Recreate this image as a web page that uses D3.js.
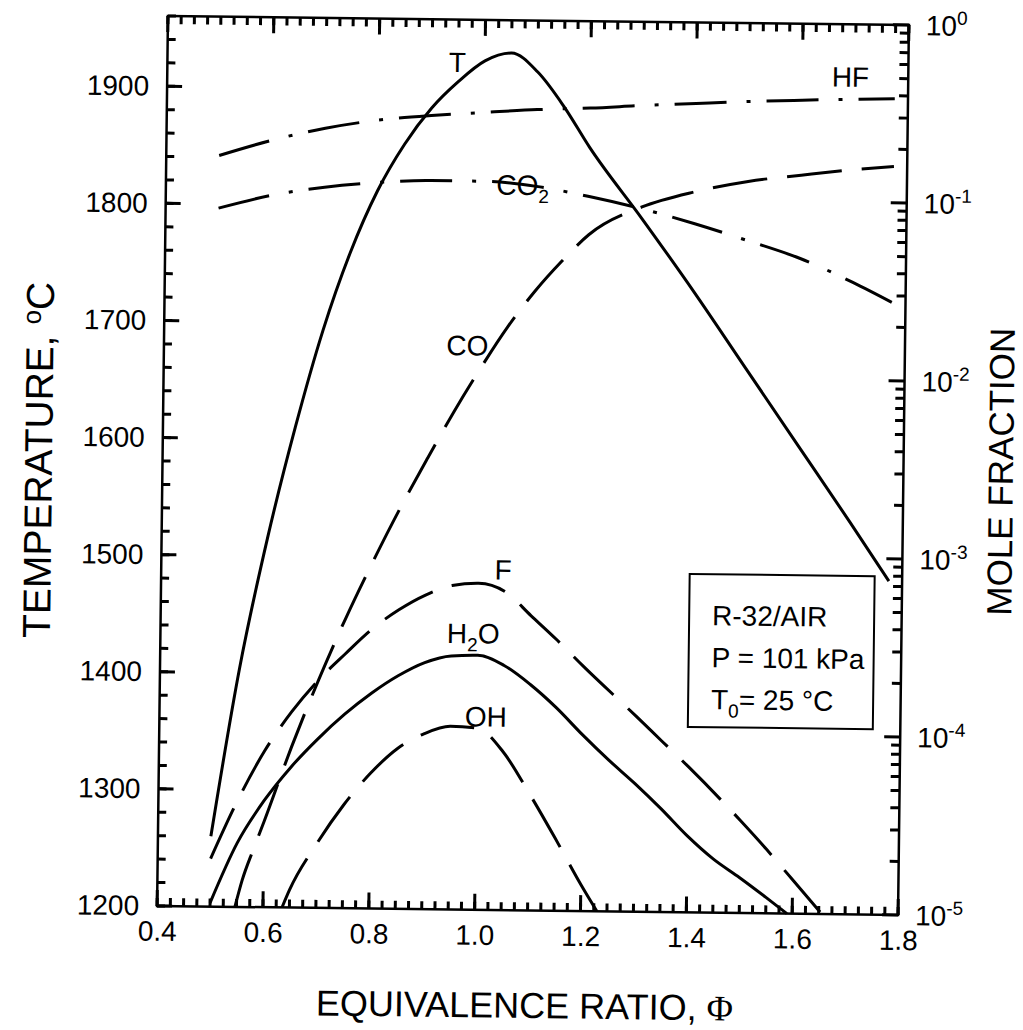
<!DOCTYPE html>
<html><head><meta charset="utf-8">
<script src="https://cdn.jsdelivr.net/npm/d3@7"></script>
<style>
body{margin:0;background:#fff}
svg{display:block}
text{font-family:"Liberation Sans",Arial,Helvetica,sans-serif;fill:#000}
</style>
</head><body>
<svg id="c" width="1023" height="1030"></svg>
<script>
// ---------- data ----------
const phiTemp = [0.5,0.55,0.6,0.65,0.7,0.75,0.8,0.85,0.9,0.95,1.0,1.05,1.1,1.15,1.2,1.3,1.4,1.5,1.6,1.7,1.775];
const temperature = [1260,1403,1515,1610,1693,1760,1813,1853,1884,1907,1925,1932,1916,1887,1852,1792,1730,1665,1600,1535,1485];

const phiHF = [0.5,0.6,0.7,0.8,0.9,1.0,1.1,1.2,1.3,1.4,1.5,1.6,1.7,1.775];
const moleHF = [0.166,0.204,0.240,0.269,0.288,0.302,0.316,0.325,0.339,0.351,0.363,0.372,0.380,0.385];

const phiCO2 = [0.5,0.6,0.7,0.8,0.9,1.0,1.1,1.2,1.3,1.4,1.5,1.6,1.7,1.775];
const moleCO2 = [0.084,0.100,0.112,0.120,0.124,0.124,0.117,0.1035,0.089,0.074,0.060,0.048,0.0355,0.0275];

const phiCO = [0.547,0.56,0.58,0.6,0.65,0.7,0.75,0.8,0.85,0.9,0.95,1.0,1.05,1.1,1.15,1.2,1.3,1.4,1.5,1.6,1.7,1.775];
const moleCO = [1.0e-5,1.41e-5,2.09e-5,3.02e-5,7.94e-5,1.91e-4,4.27e-4,8.91e-4,1.78e-3,3.39e-3,6.31e-3,1.12e-2,1.91e-2,3.02e-2,4.47e-2,6.31e-2,9.12e-2,0.112,0.129,0.141,0.153,0.160];

const phiF = [0.5,0.55,0.6,0.65,0.7,0.75,0.8,0.85,0.9,0.95,1.0,1.05,1.1,1.15,1.2,1.3,1.35,1.4,1.5,1.55,1.6,1.656];
const moleF = [1.86e-5,3.98e-5,7.59e-5,1.26e-4,1.91e-4,2.69e-4,3.72e-4,4.79e-4,5.82e-4,6.61e-4,6.84e-4,6.17e-4,4.52e-4,3.31e-4,2.37e-4,1.26e-4,9.12e-5,6.61e-5,3.31e-5,2.29e-5,1.55e-5,1.0e-5];

const phiH2O = [0.5,0.55,0.6,0.65,0.7,0.75,0.8,0.85,0.9,0.95,1.0,1.05,1.1,1.15,1.2,1.25,1.3,1.35,1.4,1.45,1.5,1.55,1.59];
const moleH2O = [1.05e-5,2.29e-5,3.98e-5,6.17e-5,8.91e-5,1.23e-4,1.62e-4,2.04e-4,2.43e-4,2.66e-4,2.69e-4,2.37e-4,1.86e-4,1.38e-4,9.77e-5,7.08e-5,5.25e-5,3.80e-5,2.69e-5,2.0e-5,1.58e-5,1.23e-5,1.0e-5];

const phiOH = [0.636,0.65,0.7,0.75,0.8,0.85,0.9,0.95,1.0,1.05,1.1,1.15,1.2,1.231];
const moleOH = [1.0e-5,1.26e-5,2.29e-5,3.80e-5,5.75e-5,7.94e-5,9.66e-5,1.07e-4,1.05e-4,7.76e-5,4.57e-5,2.57e-5,1.41e-5,1.0e-5];

const phiTickLabels = [0.4,0.6,0.8,1.0,1.2,1.4,1.6,1.8];
const tempTickLabels = [1200,1300,1400,1500,1600,1700,1800,1900];
const moleTickExponents = [0,-1,-2,-3,-4,-5];
const legendLines = ["R-32/AIR","P = 101 kPa","T0= 25 °C"];

// ---------- layout ----------
const W=1023,H=1030;
const M={left:162.5,right:903.5,top:20.5,bottom:910.5};
const x=d3.scaleLinear().domain([0.4,1.8]).range([M.left,M.right]);
const yT=d3.scaleLinear().domain([1200,1960]).range([M.bottom,M.top]);
const yL=d3.scaleLog().domain([1e-5,1]).range([M.bottom,M.top]);

const svg=d3.select("#c");
svg.append("rect").attr("width",W).attr("height",H).attr("fill","#fff");
const g=svg.append("g").attr("transform","rotate(0.7,533,465.5)");

// frame
g.append("rect").attr("x",M.left).attr("y",M.top).attr("width",M.right-M.left).attr("height",M.bottom-M.top)
 .attr("fill","none").attr("stroke","#000").attr("stroke-width",2.5);

const xMinor=d3.range(16,73).map(i=>i/40);
const tMinor=d3.range(1200,1961,20);
const logMinor=[];
for(let e=-5;e<0;e++) for(let m=2;m<10;m++) logMinor.push(m*Math.pow(10,e));
const logMajor=moleTickExponents.map(e=>Math.pow(10,e));

// tick marks as small filled rectangles placed by the scales (pointing into the plot)
const tw=3;
function vTicks(vals,y0,len,dir){
  g.append("g").selectAll("rect").data(vals).join("rect")
   .attr("x",d=>x(d)-tw/2).attr("y",dir>0?y0:y0-len).attr("width",tw).attr("height",len).attr("fill","#000");
}
function hTicks(vals,sc,x0,len,dir){
  g.append("g").selectAll("rect").data(vals).join("rect")
   .attr("x",dir>0?x0:x0-len).attr("y",d=>sc(d)-tw/2).attr("width",len).attr("height",tw).attr("fill","#000");
}
vTicks(xMinor,M.bottom,8,-1);
vTicks(phiTickLabels,M.bottom,16,-1);
vTicks(xMinor,M.top,8,1);
vTicks(phiTickLabels,M.top,16,1);
hTicks(tMinor,yT,M.left,8,1);
hTicks(tempTickLabels,yT,M.left,15,1);
hTicks(logMinor,yL,M.right,9,-1);
hTicks(logMajor,yL,M.right,16,-1);

function styleAxis(sel){
  sel.select(".domain").remove();
  sel.selectAll(".tick line").remove();
  sel.selectAll(".tick text").attr("font-size",28).attr("fill","#000")
     .attr("font-family",'"Liberation Sans",Arial,sans-serif');
}
g.append("g").attr("transform",`translate(0,${M.bottom})`)
 .call(d3.axisBottom(x).tickValues(phiTickLabels).tickSize(0).tickPadding(15).tickFormat(d3.format(".1f"))).call(styleAxis);
g.append("g").attr("transform",`translate(${M.left},0)`)
 .call(d3.axisLeft(yT).tickValues(tempTickLabels).tickSize(0).tickPadding(18).tickFormat(d3.format("d"))).call(styleAxis);

const rl=g.append("g");
moleTickExponents.forEach(e=>{
  const t=rl.append("text").attr("x",M.right+17).attr("y",yL(Math.pow(10,e))).attr("dy","0.36em").attr("font-size",28);
  t.append("tspan").text("10");
  t.append("tspan").attr("font-size",19).attr("dy",-11).text(String(e));
});

// ---------- curves ----------
const dashed="55,20", dashDot="52,20,4,16";
const series=[
  {phi:phiTemp,val:temperature,y:yT,dash:null},
  {phi:phiHF,val:moleHF,y:yL,dash:dashDot},
  {phi:phiCO2,val:moleCO2,y:yL,dash:dashDot},
  {phi:phiCO,val:moleCO,y:yL,dash:dashed},
  {phi:phiF,val:moleF,y:yL,dash:dashed},
  {phi:phiH2O,val:moleH2O,y:yL,dash:null},
  {phi:phiOH,val:moleOH,y:yL,dash:dashed}
];
series.forEach(s=>{
  const pts=s.phi.map((p,i)=>[p,s.val[i]]);
  const line=d3.line().x(d=>x(d[0])).y(d=>s.y(d[1])).curve(d3.curveMonotoneX);
  g.append("path").attr("d",line(pts)).attr("fill","none").attr("stroke","#000")
   .attr("stroke-width",3).attr("stroke-dasharray",s.dash).attr("stroke-linecap","butt");
});

// ---------- curve labels ----------
function label(xp,yp,parts){
  const t=g.append("text").attr("x",xp).attr("y",yp).attr("font-size",28);
  parts.forEach(p=>{
    if(typeof p==="string") t.append("tspan").text(p);
    else { t.append("tspan").attr("font-size",19).attr("dy",8).text(p.sub); t.append("tspan").attr("dy",-8).text(p.after||""); }
  });
}
label(444,73,["T"]);
label(827,83,["HF"]);
label(493,195,["CO",{sub:"2"}]);
label(445,356,["CO"]);
label(496,580,["F"]);
label(449,644,["H",{sub:"2",after:"O"}]);
label(468,727,["OH"]);

// ---------- legend ----------
g.append("rect").attr("x",691).attr("y",572).attr("width",185).attr("height",153)
 .attr("fill","#fff").attr("stroke","#000").attr("stroke-width",2);
g.append("text").attr("x",714).attr("y",623).attr("font-size",28).text(legendLines[0]);
g.append("text").attr("x",714).attr("y",665).attr("font-size",28).text(legendLines[1]);
const lt=g.append("text").attr("x",714).attr("y",707).attr("font-size",28);
lt.append("tspan").text("T");
lt.append("tspan").attr("font-size",19).attr("dy",8).text("0");
lt.append("tspan").attr("dy",-8).text("= 25 °C");

// ---------- axis titles ----------
const xt=g.append("text").attr("x",531).attr("y",1018).attr("text-anchor","middle").attr("font-size",36);
xt.append("tspan").text("EQUIVALENCE RATIO, ");
xt.append("tspan").attr("font-family",'"Liberation Serif","Times New Roman",serif').text("Φ");

const yt=g.append("text").attr("transform","translate(52,466) rotate(-90)").attr("text-anchor","middle").attr("font-size",39);
yt.append("tspan").text("TEMPERATURE,  ");
yt.append("tspan").attr("font-size",26).attr("dy",-13).text("o");
yt.append("tspan").attr("dy",13).text("C");

g.append("text").attr("transform","translate(1013,466) rotate(-90)").attr("text-anchor","middle").attr("font-size",35).text("MOLE FRACTION");
</script>
</body></html>
